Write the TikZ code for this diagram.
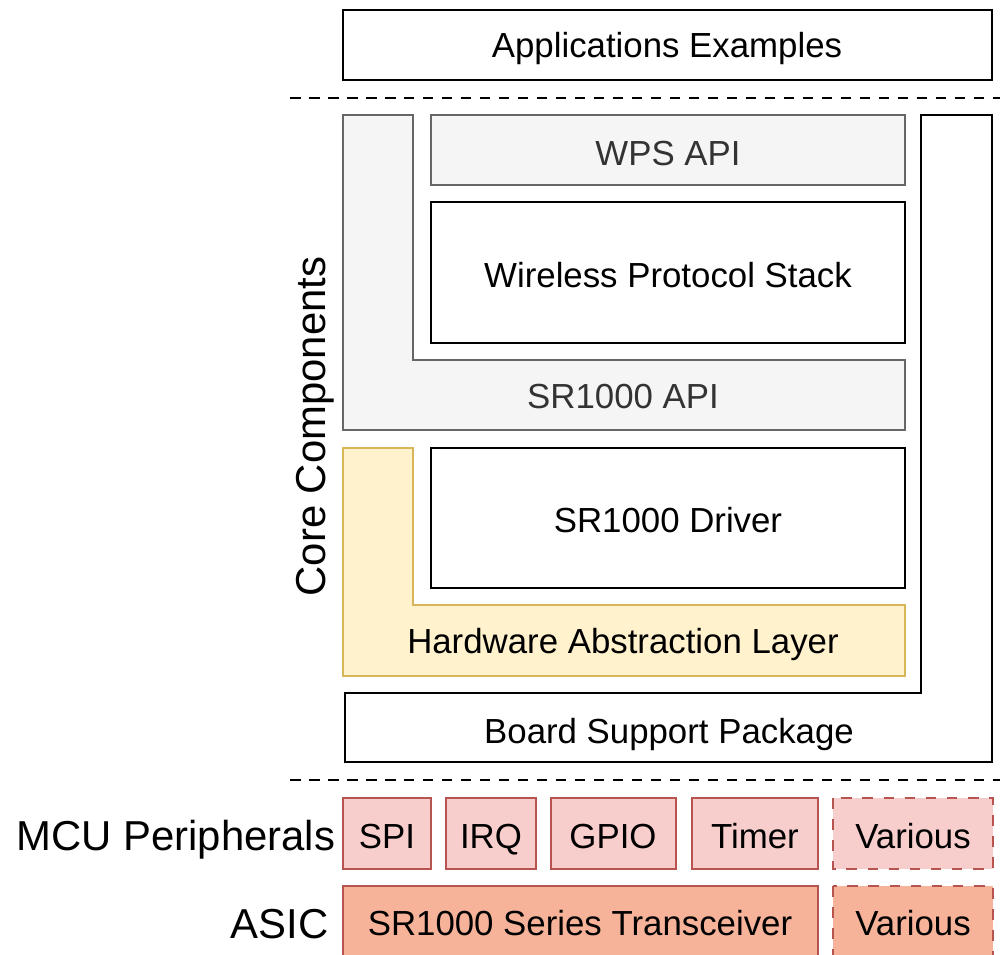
\documentclass[tikz,border=0pt]{standalone}
\usepackage{fontspec}
\setmainfont{Liberation Sans}

\definecolor{greyfill}{HTML}{F5F5F5}
\definecolor{greyline}{HTML}{666666}
\definecolor{greytext}{HTML}{333333}
\definecolor{halfill}{HTML}{FFF2CC}
\definecolor{halline}{HTML}{D6B656}
\definecolor{mcufill}{HTML}{F8CECC}
\definecolor{mculine}{HTML}{B85450}
\definecolor{asicfill}{HTML}{F6B39A}

\begin{document}
\begin{tikzpicture}[x=0.01cm,y=-0.01cm,
  every node/.style={font=\fontsize{9.9}{12}\selectfont,anchor=base,inner sep=0pt},
  big/.style={font=\fontsize{11.9}{14}\selectfont},
  blackbox/.style={draw=black,fill=white,line width=0.8pt},
  greybox/.style={draw=greyline,fill=greyfill,line width=0.8pt},
  halbox/.style={draw=halline,fill=halfill,line width=0.8pt},
  mcubox/.style={draw=mculine,fill=mcufill,line width=0.8pt},
  asicbox/.style={draw=mculine,fill=asicfill,line width=0.8pt},
  split/.style={line width=0.8pt,dash pattern=on 3pt off 2.4pt}]
  \useasboundingbox (0,0) rectangle (1000,954);

  % application layer
  \draw[blackbox] (343,10) rectangle (992,80);
  \node (apps) at (667,57) {Applications Examples};
  \coordinate (topl) at (290,98);
  \coordinate (topr) at (1000,98);
  \draw[split] (topl) -- (topr);

  % core components
  \draw[greybox] (343,115) -- (413,115) -- (413,360) -- (905,360) -- (905,430) -- (343,430) -- cycle;
  \node[text=greytext] (sdkapi) at (623,408) {SR1000 API};
  \draw[greybox] (431,115) rectangle (905,185);
  \node[text=greytext] (wpsapi) at (668,165) {WPS API};
  \draw[blackbox] (431,202) rectangle (905,343);
  \node (stack) at (668,287) {Wireless Protocol Stack};

  \draw[halbox] (343,448) -- (413,448) -- (413,605) -- (905,605) -- (905,676) -- (343,676) -- cycle;
  \node (hal) at (623,653) {Hardware Abstraction Layer};
  \draw[blackbox] (431,448) rectangle (905,588);
  \node (driver) at (668,532) {SR1000 Driver};

  \draw[blackbox] (921,115) -- (992,115) -- (992,762) -- (345,762) -- (345,693) -- (921,693) -- cycle;
  \node (bsp) at (669,743) {Board Support Package};

  \node[big,rotate=90,anchor=base west] (core) at (325,597) {Core Components};

  \coordinate (botl) at (290,780);
  \coordinate (botr) at (1000,780);
  \draw[split] (botl) -- (botr);

  % hardware
  \node[big,anchor=base east] (mcu) at (336,850) {MCU Peripherals};
  \draw[mcubox] (343,798) rectangle (431,869);
  \node (spi) at (387,848) {SPI};
  \draw[mcubox] (446,798) rectangle (536,869);
  \node (irq) at (491,848) {IRQ};
  \draw[mcubox] (551,798) rectangle (676,869);
  \node (gpio) at (613,848) {GPIO};
  \draw[mcubox] (692,798) rectangle (818,869);
  \node (timer) at (755,848) {Timer};
  \draw[mcubox,dashed] (833,798) rectangle (993,869);
  \node (mcuvar) at (913,848) {Various};

  \node[big,anchor=base east] (asic) at (329,938) {ASIC};
  \draw[asicbox] (343,886) rectangle (818,960);
  \node (trx) at (580,935) {SR1000 Series Transceiver};
  \draw[asicbox,dashed] (833,886) rectangle (993,960);
  \node (asicvar) at (913,935) {Various};
\end{tikzpicture}
\end{document}
